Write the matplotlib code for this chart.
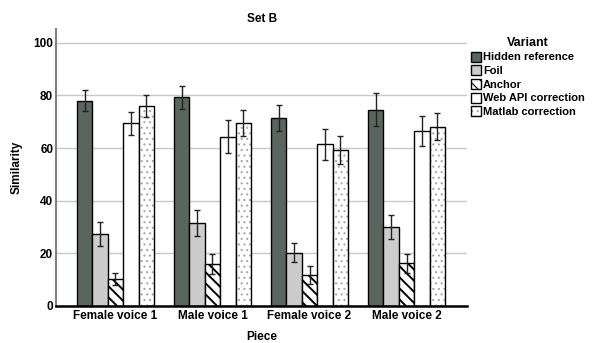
import numpy as np
import matplotlib.pyplot as plt
from matplotlib.patches import Patch
from matplotlib.legend_handler import HandlerTuple

plt.rcParams['font.family'] = ['Liberation Sans', 'DejaVu Sans']
plt.rcParams['font.weight'] = 'bold'
plt.rcParams['hatch.linewidth'] = 1.4

pieces = ['Female voice 1', 'Male voice 1', 'Female voice 2', 'Male voice 2']
variants = ['Hidden reference', 'Foil', 'Anchor', 'Web API correction', 'Matlab correction']

# mean similarity per piece for each variant
hidden = [78.0, 79.3, 71.3, 74.6]
foil = [27.3, 31.4, 20.3, 30.1]
anchor = [10.3, 15.8, 11.8, 16.2]
web_api = [69.4, 64.3, 61.4, 66.6]
matlab = [76.0, 69.4, 59.1, 68.1]

# half-widths of the error bars
hidden_err = [3.9, 4.4, 5.0, 6.3]
foil_err = [4.5, 5.0, 3.5, 4.5]
anchor_err = [2.4, 3.8, 3.4, 3.7]
web_api_err = [4.3, 6.3, 5.8, 5.7]
matlab_err = [4.2, 5.0, 5.3, 5.2]

means = [hidden, foil, anchor, web_api, matlab]
errs = [hidden_err, foil_err, anchor_err, web_api_err, matlab_err]
# facecolor, hatch, hatch colour, hatch line width
styles = [
    ('#5b655f', None, 'black', 1.4),
    ('#cccccc', None, 'black', 1.4),
    ('white', '\\\\\\', 'black', 1.4),
    ('white', None, 'black', 1.4),
    ('white', '...', '#a8a8a8', 0.8),
]

fig = plt.figure(figsize=(5.92, 3.43), dpi=100)
ax = fig.add_axes([56 / 592, 1 - 306 / 343, (466.7 - 56) / 592, (306 - 29) / 343])

x = np.arange(len(pieces))
width = 0.159
handles = []
for i, (vals, err, (fc, hatch, hc, hlw)) in enumerate(zip(means, errs, styles)):
    pos = x - 2 * width + i * width
    if hatch:
        # hatch drawn with its own colour, outline drawn on top in black
        plt.rcParams['hatch.linewidth'] = hlw
        ax.bar(pos, vals, width, color=fc, edgecolor=hc, linewidth=0,
               hatch=hatch, zorder=2)
        ax.bar(pos, vals, width, fill=False, edgecolor='black', linewidth=1.0, zorder=2)
        plt.rcParams['hatch.linewidth'] = min(hlw, 1.0)
        handles.append((Patch(facecolor=fc, edgecolor=hc, linewidth=0, hatch=hatch),
                        Patch(fill=False, edgecolor='black', linewidth=1.0)))
    else:
        ax.bar(pos, vals, width, color=fc, edgecolor='black', linewidth=1.0, zorder=2)
        handles.append(Patch(facecolor=fc, edgecolor='black', linewidth=1.0))
    ax.errorbar(pos, vals, yerr=err, fmt='none', ecolor='#222222',
                elinewidth=1.0, capsize=2.5, capthick=1.0, zorder=3)

ax.set_xlim(-0.613, 3.62)
ax.set_ylim(0, 105.2)
ax.set_yticks([0, 20, 40, 60, 80, 100])
ax.set_xticks(x)
ax.set_xticklabels(pieces, fontsize=8.5, fontweight='bold')
ax.tick_params(axis='y', labelsize=8.5, length=0, pad=2)
ax.tick_params(axis='x', length=0, pad=3)
for t in ax.get_yticklabels():
    t.set_fontweight('bold')

ax.grid(axis='y', color='#c8c8c8', linewidth=1.0, zorder=0)
ax.set_axisbelow(True)
for s in ['top', 'right']:
    ax.spines[s].set_visible(False)
ax.spines['left'].set_color('#808080')
ax.spines['left'].set_linewidth(1.5)
ax.spines['bottom'].set_color('black')
ax.spines['bottom'].set_linewidth(1.8)

ax.set_ylabel('Similarity', fontsize=8.5, fontweight='bold', labelpad=8)
fig.text(262 / 592, 1 - 337 / 343, 'Piece', fontsize=8.5, fontweight='bold',
         ha='center', va='center')
fig.text(262 / 592, 1 - 19 / 343, 'Set B', fontsize=8.5, fontweight='bold',
         ha='center', va='center')

leg = fig.legend(handles=handles, labels=variants, loc='upper left',
                 bbox_to_anchor=(463 / 592, 1 - 29 / 343),
                 handler_map={tuple: HandlerTuple(ndivide=1, pad=0)},
                 title='Variant', frameon=False, fontsize=8,
                 title_fontproperties={'weight': 'bold', 'size': 9},
                 handlelength=0.95, handleheight=1.0, handletextpad=0.15,
                 labelspacing=0.26, borderpad=0.2)
for t in leg.get_texts():
    t.set_fontweight('bold')

fig.savefig('out.png', dpi=100)
